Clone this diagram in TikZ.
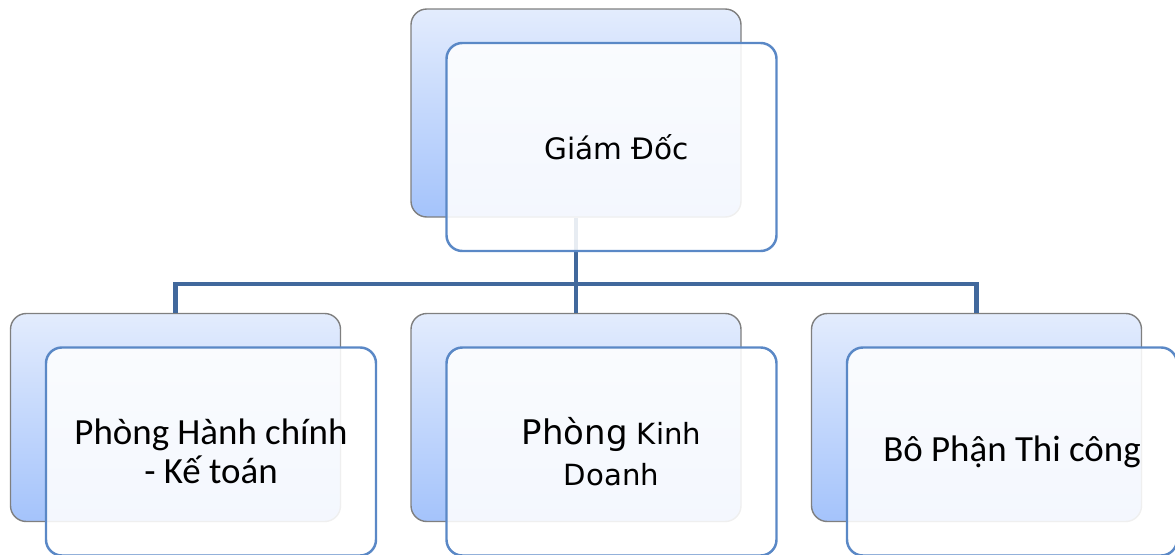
\documentclass[tikz,border=0pt]{standalone}
\usepackage{fontspec}
\setmainfont{Carlito}
\newfontfamily\wideface{DejaVu Sans}
\usepackage{tikz}
\usetikzlibrary{positioning,calc}
\definecolor{obback}{HTML}{7F7F7F}
\definecolor{obtop}{HTML}{E3ECFD}
\definecolor{obbot}{HTML}{A4C3FB}
\definecolor{obedge}{HTML}{5A88C6}
\definecolor{obline}{HTML}{41689C}
\tikzset{
  back/.style={draw=obback,line width=0.8pt,rounded corners=9pt,top color=obtop,bottom color=obbot,minimum width=6.6cm,minimum height=4.16cm,inner sep=0pt},
  front/.style={draw=obedge,line width=1.4pt,rounded corners=9pt,fill=white,fill opacity=0.88,text opacity=1,minimum width=6.6cm,minimum height=4.16cm,inner sep=0pt,align=center,font=\fontsize{21}{22}\selectfont},
  conn/.style={draw=obline,line width=2.5pt},
}

\begin{document}
\begin{tikzpicture}
  \useasboundingbox (0,0) rectangle (23.5,-11.08);
  % back cards
  \node[back] (gdb) at (11.52,-2.26) {};
  \node[back] (hcb) at (3.51,-8.35) {};
  \node[back] (kdb) at (11.52,-8.35) {};
  \node[back] (tcb) at (19.53,-8.35) {};
  % tree lines
  \coordinate (bus) at ($(gdb.south)+(0,-1.32)$);
  \draw[conn] (gdb.south) -- (kdb.north);
  \draw[conn] (hcb.north) |- (bus) -| (tcb.north);
  % front cards
  \node[front,font=\wideface\fontsize{16.8}{22}\selectfont] (gd) at ($(gdb.center)+(0.71,-0.68)$) {\hspace*{0.2cm}Giám Đốc};
  \node[front] (hc) at ($(hcb.center)+(0.71,-0.68)$) {Phòng Hành chính\\- Kế toán};
  \node[front,font=\wideface\fontsize{16.6}{23}\selectfont] (kd) at ($(kdb.center)+(0.71,-0.68)$) {{\fontsize{19.3}{23}\selectfont Phòng} Kinh\\Doanh};
  \node[front] (tc) at ($(tcb.center)+(0.71,-0.68)$) {Bô Phận Thi công};
\end{tikzpicture}
\end{document}
